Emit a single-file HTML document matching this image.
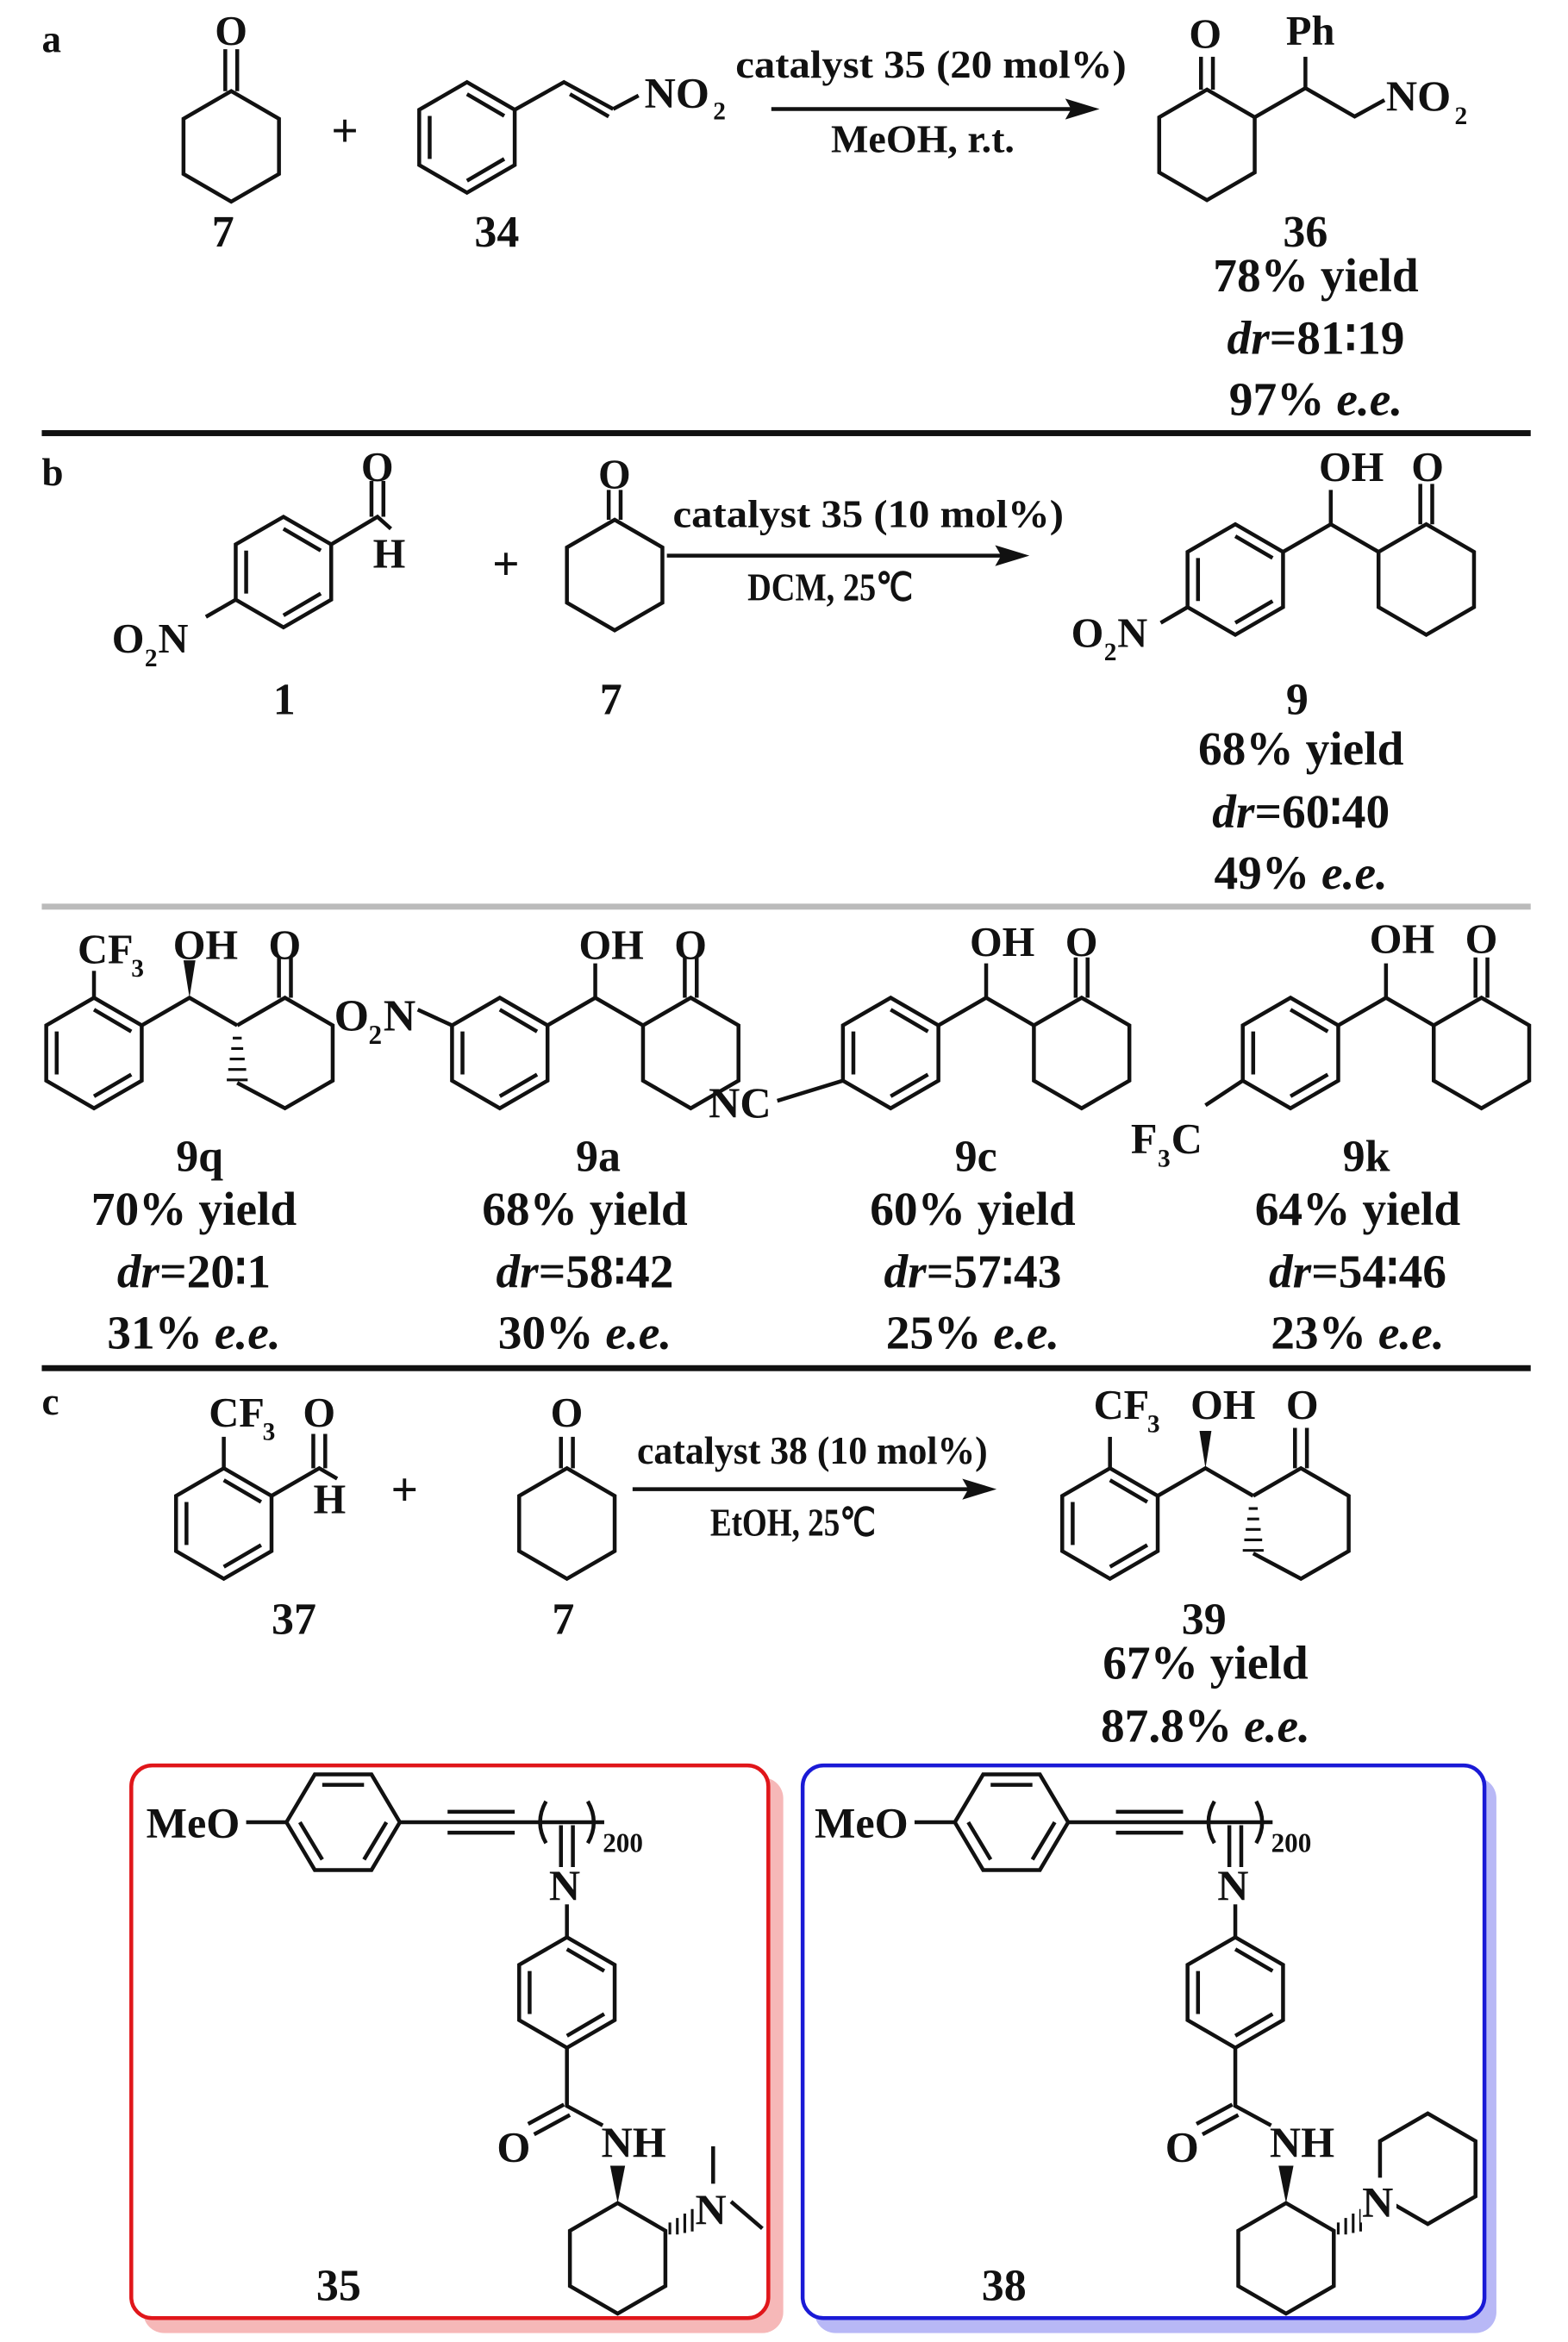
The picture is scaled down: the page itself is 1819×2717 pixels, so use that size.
<!DOCTYPE html>
<html><head><meta charset="utf-8"><style>
html,body{margin:0;padding:0;background:#fff}
svg{display:block}
text{font-family:"Liberation Serif",serif;font-weight:bold;fill:#111}
</style></head><body>
<svg width="1819" height="2717" viewBox="0 0 1051 1568" preserveAspectRatio="none" xmlns="http://www.w3.org/2000/svg">
<defs>
<g id="hex"><polygon points="0,-37 32,-18.5 32,18.5 0,37 -32,18.5 -32,-18.5" fill="none" stroke="#111" stroke-width="2.6"/></g>
<g id="benz"><use href="#hex"/><path d="M0,-29 L25,-14.4 M25,14.4 L0,29 M-25,14.4 L-25,-14.4" stroke="#111" stroke-width="2.6" fill="none"/></g>
<g id="fbenz"><polygon points="38,0 19,-32 -19,-32 -38,0 -19,32 19,32" fill="none" stroke="#111" stroke-width="2.6"/><path d="M14,-25 L-14,-25 M-29,0 L-14,25 M14,25 L29,0" stroke="#111" stroke-width="2.6" fill="none"/></g>
<g id="aldol" stroke="#111" stroke-width="2.6" fill="none">
<use href="#benz"/>
<path d="M32,-18.5 L64,-37 L96,-18.5 M64,-37 L64,-60"/>
<use href="#hex" x="128"/>
<path d="M124,-37 L124,-64 M132,-37 L132,-64"/>
</g>
<g id="aldolS" stroke="#111" stroke-width="2.6" fill="none">
<use href="#benz"/>
<path d="M32,-18.5 L64,-37 L96,-18.5"/>
<polyline points="96,-18.5 128,-37 160,-18.5 160,18.5 128,37 96,20"/>
<path d="M124,-37 L124,-64 M132,-37 L132,-64"/>
<path d="M93,-10 L99,-10 M92,-3 L100,-3 M91,4 L101,4 M90,11 L102,11 M89,18 L103,18" stroke-width="1.8"/>
<polygon points="64,-37 60,-62 68,-62" fill="#111" stroke="none"/>
</g>
<g id="cat">
<g stroke="#111" stroke-width="2.6" fill="none">
<path d="M165,1220 L192,1220"/>
<use href="#fbenz" x="230" y="1220"/>
<path d="M268,1220 L300,1220 M300,1213 L345,1213 M300,1220 L345,1220 M300,1227 L345,1227 M345,1220 L405,1220"/>
<path d="M366,1206 Q358,1220 366,1234 M394,1206 Q402,1220 394,1234"/>
<path d="M376,1222 L376,1250 M384,1222 L384,1250"/>
<path d="M380,1275 L380,1297"/>
<use href="#benz" x="380" y="1334"/>
<path d="M380,1371 L380,1410 L404,1423 M378,1409 L354,1422 M382,1416 L358,1429"/>
<use href="#hex" x="414" y="1512"/>
<path d="M449,1488 L449,1496 M454,1485 L454,1496 M459,1482 L459,1495 M464,1479 L464,1494" stroke-width="1.8"/>
</g>
<polygon points="414,1475 409,1450 419,1450" fill="#111"/>
<text x="98" y="1230" font-size="29">MeO</text>
<text x="368" y="1272" font-size="29">N</text>
<text x="404" y="1240" font-size="18">200</text>
<text x="333" y="1447" font-size="29">O</text>
<text x="403" y="1444" font-size="29">NH</text>
</g>
</defs>

<!-- a -->
<text x="28" y="35" font-size="26">a</text>
<use href="#hex" x="155" y="98"/>
<path d="M151,61 L151,33 M159,61 L159,33" stroke="#111" stroke-width="2.6"/>
<text x="144" y="30" font-size="28">O</text>
<text x="142" y="165" font-size="30">7</text>
<text x="222" y="98" font-size="32">+</text>
<use href="#benz" x="313" y="92"/>
<path d="M345,73.5 L378,55 L411,73 M382,63 L408,78 M411,73 L428,64" stroke="#111" stroke-width="2.6" fill="none"/>
<text x="432" y="72" font-size="29">NO</text><text x="478" y="80" font-size="17">2</text>
<text x="318" y="165" font-size="30">34</text>
<path d="M517,73 L722,73" stroke="#111" stroke-width="2.6"/><polygon points="737,73 714,66 718,73 714,80" fill="#111"/>
<text x="493" y="52" font-size="26" textLength="262" lengthAdjust="spacingAndGlyphs">catalyst 35 (20 mol%)</text>
<text x="557" y="102" font-size="26" textLength="123" lengthAdjust="spacingAndGlyphs">MeOH, r.t.</text>
<use href="#hex" x="809" y="97"/>
<path d="M805,60 L805,38 M813,60 L813,38 M841,78.5 L875,59 L875,38 M875,59 L908,78 L928,67" stroke="#111" stroke-width="2.6" fill="none"/>
<text x="797" y="32" font-size="28">O</text>
<text x="862" y="30" font-size="28">Ph</text>
<text x="929" y="74" font-size="29">NO</text><text x="975" y="83" font-size="17">2</text>
<text x="860" y="165" font-size="30">36</text>
<text x="882" y="195" font-size="32" text-anchor="middle">78% yield</text>
<text x="882" y="237" font-size="32" text-anchor="middle"><tspan font-style="italic">dr</tspan>=81∶19</text>
<text x="882" y="278" font-size="32" text-anchor="middle">97% <tspan font-style="italic">e.e.</tspan></text>
<rect x="28" y="288" width="998" height="4" fill="#111"/>

<!-- b -->
<text x="28" y="325" font-size="26">b</text>
<use href="#benz" x="190" y="383"/>
<path d="M222,364.5 L253,346 L262,354 M249,346 L249,322 M257,346 L257,322 M158,401.5 L138,413" stroke="#111" stroke-width="2.6" fill="none"/>
<text x="242" y="322" font-size="28">O</text>
<text x="250" y="380" font-size="28">H</text>
<text x="75" y="437" font-size="28">O</text><text x="97" y="446" font-size="17">2</text><text x="106" y="437" font-size="28">N</text>
<text x="183" y="478" font-size="30">1</text>
<text x="330" y="388" font-size="32">+</text>
<use href="#hex" x="412" y="385"/>
<path d="M408,348 L408,328 M416,348 L416,328" stroke="#111" stroke-width="2.6"/>
<text x="401" y="327" font-size="28">O</text>
<text x="402" y="478" font-size="30">7</text>
<path d="M447,372 L675,372" stroke="#111" stroke-width="2.6"/><polygon points="690,372 667,365 671,372 667,379" fill="#111"/>
<text x="451" y="353" font-size="26" textLength="262" lengthAdjust="spacingAndGlyphs">catalyst 35 (10 mol%)</text>
<text x="501" y="402" font-size="26" textLength="111" lengthAdjust="spacingAndGlyphs">DCM, 25℃</text>
<use href="#aldol" x="828" y="388"/>
<path d="M796,406.5 L778,417" stroke="#111" stroke-width="2.6"/>
<text x="884" y="322" font-size="28">OH</text>
<text x="946" y="322" font-size="28">O</text>
<text x="718" y="433" font-size="28">O</text><text x="740" y="442" font-size="17">2</text><text x="749" y="433" font-size="28">N</text>
<text x="862" y="478" font-size="30">9</text>
<text x="872" y="512" font-size="32" text-anchor="middle">68% yield</text>
<text x="872" y="554" font-size="32" text-anchor="middle"><tspan font-style="italic">dr</tspan>=60∶40</text>
<text x="872" y="595" font-size="32" text-anchor="middle">49% <tspan font-style="italic">e.e.</tspan></text>
<rect x="28" y="605" width="998" height="4" fill="#bbb"/>

<!-- row -->
<use href="#aldolS" x="63" y="705"/>
<path d="M63,668 L63,650" stroke="#111" stroke-width="2.6"/>
<text x="52" y="645" font-size="28">CF</text><text x="88" y="654" font-size="17">3</text>
<text x="116" y="642" font-size="28">OH</text><text x="180" y="642" font-size="28">O</text>
<text x="118" y="784" font-size="30">9q</text>
<text x="130" y="820" font-size="32" text-anchor="middle">70% yield</text>
<text x="130" y="862" font-size="32" text-anchor="middle"><tspan font-style="italic">dr</tspan>=20∶1</text>
<text x="130" y="903" font-size="32" text-anchor="middle">31% <tspan font-style="italic">e.e.</tspan></text>

<use href="#aldol" x="335" y="705"/>
<path d="M303,686.5 L280,676" stroke="#111" stroke-width="2.6"/>
<text x="224" y="690" font-size="30">O</text><text x="247" y="699" font-size="18">2</text><text x="257" y="690" font-size="30">N</text>
<text x="388" y="642" font-size="28">OH</text><text x="452" y="642" font-size="28">O</text>
<text x="386" y="784" font-size="30">9a</text>
<text x="392" y="820" font-size="32" text-anchor="middle">68% yield</text>
<text x="392" y="862" font-size="32" text-anchor="middle"><tspan font-style="italic">dr</tspan>=58∶42</text>
<text x="392" y="903" font-size="32" text-anchor="middle">30% <tspan font-style="italic">e.e.</tspan></text>

<use href="#aldol" x="597" y="705"/>
<path d="M565,723.5 L521,737" stroke="#111" stroke-width="2.6"/>
<text x="475" y="748" font-size="29">NC</text>
<text x="650" y="640" font-size="28">OH</text><text x="714" y="640" font-size="28">O</text>
<text x="640" y="784" font-size="30">9c</text>
<text x="652" y="820" font-size="32" text-anchor="middle">60% yield</text>
<text x="652" y="862" font-size="32" text-anchor="middle"><tspan font-style="italic">dr</tspan>=57∶43</text>
<text x="652" y="903" font-size="32" text-anchor="middle">25% <tspan font-style="italic">e.e.</tspan></text>

<use href="#aldol" x="865" y="705"/>
<path d="M833,723.5 L808,740" stroke="#111" stroke-width="2.6"/>
<text x="758" y="772" font-size="29">F</text><text x="776" y="781" font-size="17">3</text><text x="785" y="772" font-size="29">C</text>
<text x="918" y="638" font-size="28">OH</text><text x="982" y="638" font-size="28">O</text>
<text x="900" y="784" font-size="30">9k</text>
<text x="910" y="820" font-size="32" text-anchor="middle">64% yield</text>
<text x="910" y="862" font-size="32" text-anchor="middle"><tspan font-style="italic">dr</tspan>=54∶46</text>
<text x="910" y="903" font-size="32" text-anchor="middle">23% <tspan font-style="italic">e.e.</tspan></text>
<rect x="28" y="914" width="998" height="4" fill="#111"/>

<!-- c -->
<text x="28" y="947" font-size="26">c</text>
<use href="#benz" x="150" y="1020"/>
<path d="M150,983 L150,962 M182,1001.5 L214,983 L226,990 M210,983 L210,960 M218,983 L218,960" stroke="#111" stroke-width="2.6" fill="none"/>
<text x="140" y="955" font-size="28">CF</text><text x="176" y="964" font-size="17">3</text>
<text x="203" y="955" font-size="28">O</text>
<text x="210" y="1013" font-size="28">H</text>
<text x="182" y="1094" font-size="30">37</text>
<text x="262" y="1008" font-size="32">+</text>
<use href="#hex" x="380" y="1020"/>
<path d="M376,983 L376,962 M384,983 L384,962" stroke="#111" stroke-width="2.6"/>
<text x="369" y="955" font-size="28">O</text>
<text x="370" y="1094" font-size="30">7</text>
<path d="M424,997 L653,997" stroke="#111" stroke-width="2.6"/><polygon points="668,997 645,990 649,997 645,1004" fill="#111"/>
<text x="427" y="980" font-size="26" textLength="235" lengthAdjust="spacingAndGlyphs">catalyst 38 (10 mol%)</text>
<text x="476" y="1028" font-size="26" textLength="111" lengthAdjust="spacingAndGlyphs">EtOH, 25℃</text>
<use href="#aldolS" x="744" y="1020"/>
<path d="M744,983 L744,962" stroke="#111" stroke-width="2.6"/>
<text x="733" y="950" font-size="28">CF</text><text x="769" y="959" font-size="17">3</text>
<text x="798" y="950" font-size="28">OH</text><text x="862" y="950" font-size="28">O</text>
<text x="792" y="1094" font-size="30">39</text>
<text x="808" y="1124" font-size="32" text-anchor="middle">67% yield</text>
<text x="808" y="1166" font-size="32" text-anchor="middle">87.8% <tspan font-style="italic">e.e.</tspan></text>

<!-- catalyst 35 -->
<rect x="96" y="1190" width="429" height="372" rx="14" fill="#f6b8b8"/>
<rect x="88" y="1182" width="427" height="370" rx="14" fill="#fff" stroke="#e0161a" stroke-width="2.6"/>
<use href="#cat"/>
<path d="M478,1437 L478,1462 M490,1474 L511,1492" stroke="#111" stroke-width="2.6"/>
<text x="466" y="1489" font-size="29">N</text>
<text x="212" y="1540" font-size="30">35</text>

<!-- catalyst 38 -->
<rect x="546" y="1190" width="457" height="372" rx="14" fill="#b8b8f6"/>
<rect x="538" y="1182" width="457" height="370" rx="14" fill="#fff" stroke="#1a1ad6" stroke-width="2.6"/>
<use href="#cat" transform="translate(448,0)"/>
<use href="#hex" x="957" y="1452"/>
<rect x="912" y="1458" width="24" height="30" fill="#fff"/>
<text x="913" y="1484" font-size="29">N</text>
<text x="658" y="1540" font-size="30">38</text>
</svg>
</body></html>
